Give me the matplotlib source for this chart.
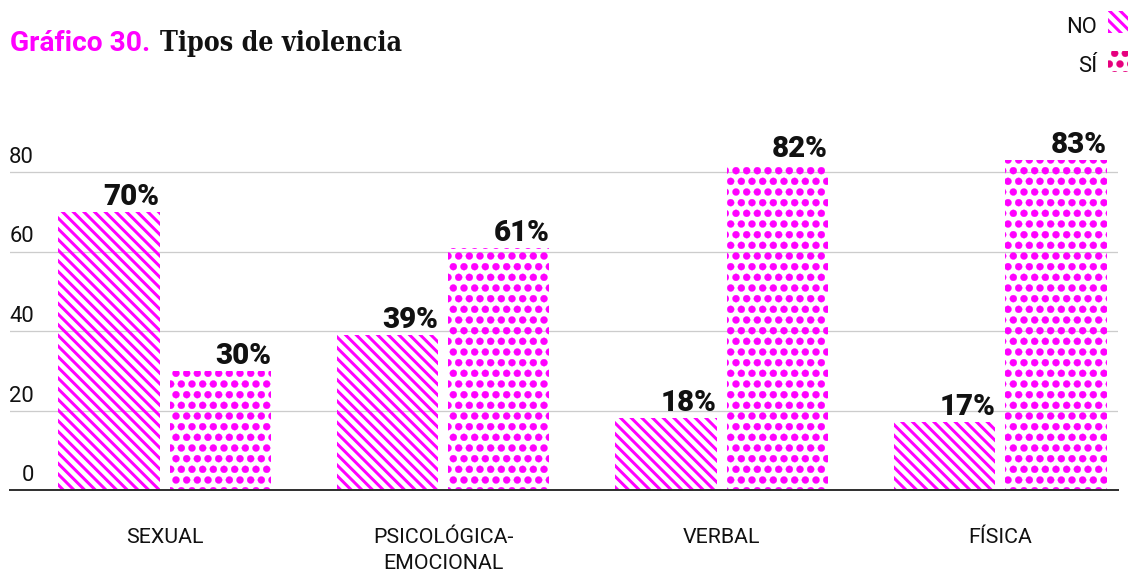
import matplotlib
matplotlib.use("Agg")
import matplotlib.pyplot as plt
import matplotlib.hatch as mhatch
from matplotlib.patches import Rectangle
from matplotlib.transforms import ScaledTranslation
import numpy as np

# ---- data -------------------------------------------------------------
categories = ["SEXUAL", "PSICOLÓGICA-\nEMOCIONAL", "VERBAL", "FÍSICA"]
no_values = [70, 39, 18, 17]
si_values = [30, 61, 82, 83]
y_ticks = [0, 20, 40, 60, 80]
series_labels = ["NO", "SÍ"]

# ---- style ------------------------------------------------------------
MAGENTA = "#ff00ff"
DOT_PINK = "#e6007e"
GRID = "#cccccc"
DPI = 128
W_PX, H_PX = 1128, 572
PT = 72.0 / DPI          # points per pixel

BSL = chr(92)            # backslash
STRIPES = BSL * 4        # dense "\" diagonal stripes
DOTS = ".."              # dense staggered dots

# bigger filled dots for the dotted pattern
mhatch.SmallFilledCircles.size = 0.33

plt.rcParams["font.family"] = ["Roboto", "DejaVu Sans"]

fig = plt.figure(figsize=(W_PX / DPI, H_PX / DPI), dpi=DPI)
fig.patch.set_facecolor("white")

def px_to_fig(x, y_top):
    return x / W_PX, 1 - y_top / H_PX

# axes: x from 10px to 1118px, y=0 at 490px, 3.975 px per unit
ymax = 90
ppu = 3.975
ax_left, ax_right = 10, 1118
ax_bottom = 490
ax_top = ax_bottom - ymax * ppu
ax = fig.add_axes([ax_left / W_PX, 1 - ax_bottom / H_PX,
                   (ax_right - ax_left) / W_PX, (ax_bottom - ax_top) / H_PX])

group_step = 278.5
x = np.arange(len(categories))
bar_w = 101.5 / group_step
offset = 55.75 / group_step

stripe_bars = ax.bar(x - offset, no_values, width=bar_w, facecolor="none",
                     edgecolor=MAGENTA, linewidth=0, hatch=STRIPES, zorder=2)
dot_bars = ax.bar(x + offset, si_values, width=bar_w, facecolor="none",
                  edgecolor=MAGENTA, linewidth=0, hatch=DOTS, zorder=2)
for b in stripe_bars:
    if hasattr(b, "set_hatch_linewidth"):
        b.set_hatch_linewidth(3.0 * PT)
for b in dot_bars:
    if hasattr(b, "set_hatch_linewidth"):
        b.set_hatch_linewidth(0.3 * PT)

# value labels, right-aligned to each bar
for bars, vals in ((stripe_bars, no_values), (dot_bars, si_values)):
    for b, v in zip(bars, vals):
        ax.annotate(f"{v}%", xy=(b.get_x() + b.get_width(), v),
                    xytext=(0, 7 * PT), textcoords="offset points",
                    ha="right", va="baseline", fontsize=16.6,
                    fontweight="black", color="#111111")

ax.set_xlim((ax_left - 164.5) / group_step, (ax_right - 164.5) / group_step)
ax.set_ylim(0, ymax)

# y grid + labels above the lines
ax.set_yticks(y_ticks)
ax.set_yticklabels([str(t) for t in y_ticks])
ax.yaxis.grid(True, color=GRID, linewidth=1.3 * PT, zorder=0)
ax.set_axisbelow(True)
ax.tick_params(axis="y", length=0, pad=-24 * PT, labelsize=12.4,
               labelcolor="#111111")
for lab in ax.get_yticklabels():
    lab.set_va("bottom")
    lab.set_transform(lab.get_transform() +
                      ScaledTranslation(0, 4 / DPI, fig.dpi_scale_trans))

# x categories
ax.set_xticks(x)
ax.set_xticklabels(categories, linespacing=1.45)
ax.tick_params(axis="x", length=0, pad=38 * PT, labelsize=12,
               labelcolor="#111111")

for s in ("top", "right", "left"):
    ax.spines[s].set_visible(False)
ax.spines["bottom"].set_color("#333333")
ax.spines["bottom"].set_linewidth(2 * PT)
ax.spines["bottom"].set_zorder(3)

# ---- title --------------------------------------------------------------
tx, ty = px_to_fig(10, 51)
t1 = fig.text(tx, ty, "Gráfico 30.", color=MAGENTA, fontsize=15.8,
              fontweight="bold", va="baseline", ha="left")
fig.canvas.draw()
r = fig.canvas.get_renderer()
bb = t1.get_window_extent(renderer=r)
fig.text((bb.x1 + 10) / W_PX, ty, "Tipos de violencia", color="#111111",
         fontsize=15.0, fontweight="bold", va="baseline", ha="left",
         family="DejaVu Serif", fontstretch="condensed")

# ---- legend ---------------------------------------------------------------
for label, hatch, col, y_base, y_top, h in (
        ("NO", STRIPES, MAGENTA, 33, 11, 22),
        ("SÍ", DOTS, DOT_PINK, 72, 51, 21)):
    lx, ly = px_to_fig(1097, y_base)
    fig.text(lx, ly, label, fontsize=12.4, ha="right", va="baseline",
             color="#111111")
    rx, ry = px_to_fig(1108, y_top + h)
    rect = Rectangle((rx, ry), 22 / W_PX, h / H_PX, transform=fig.transFigure,
                     facecolor="none", edgecolor=col, linewidth=0,
                     hatch=hatch)
    if hasattr(rect, "set_hatch_linewidth"):
        rect.set_hatch_linewidth((3.0 if label == "NO" else 0.3) * PT)
    fig.add_artist(rect)

fig.savefig("out.png", dpi=DPI, facecolor="white")
